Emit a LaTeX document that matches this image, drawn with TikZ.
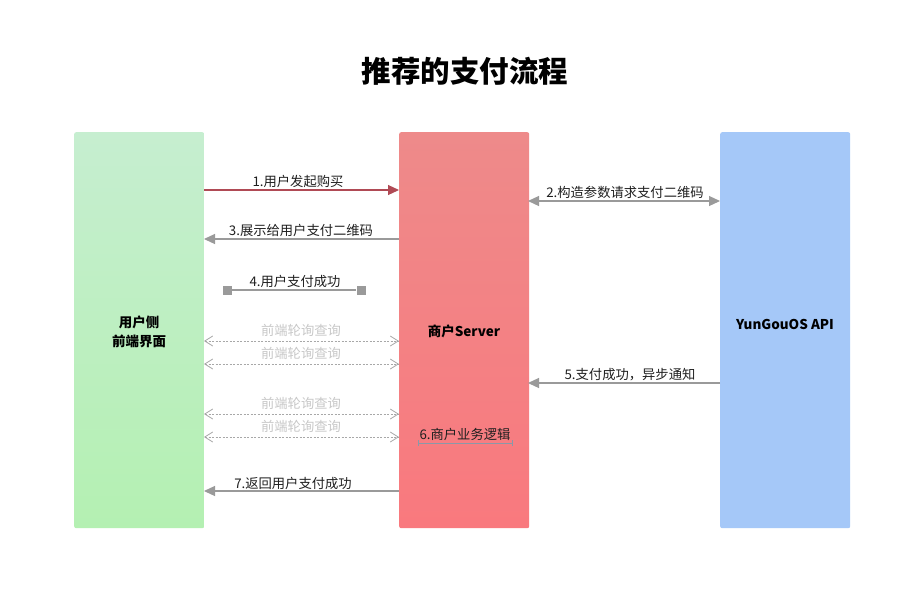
\documentclass[tikz,border=0pt]{standalone}
\usepackage{fontspec}
\setmainfont{Noto Sans CJK SC}
\usetikzlibrary{arrows.meta}
\definecolor{lineg}{HTML}{9A9A9A}
\definecolor{redl}{HTML}{B04A55}
\definecolor{dotg}{HTML}{A8A8A8}
\definecolor{lblg}{HTML}{C8C8C8}
\definecolor{gtop}{HTML}{C6EED0}
\definecolor{gbot}{HTML}{B4F0B2}
\definecolor{rtop}{HTML}{EE8A8A}
\definecolor{rbot}{HTML}{F9797E}
\definecolor{bcol}{HTML}{A5C8F8}
\definecolor{ulc}{HTML}{8A98A8}
\tikzset{
  lane/.style={rounded corners=2pt, minimum width=130pt, minimum height=396pt, inner sep=0pt, anchor=north west},
  lanetxt/.style={font=\fontsize{13.5}{19}\selectfont\bfseries, align=center, text=black},
  msg/.style={draw=lineg, line width=1.2pt, -{Triangle[length=11pt,width=10pt]}},
  dmsg/.style={draw=lineg, line width=1.2pt, {Triangle[length=11pt,width=10pt]}-{Triangle[length=11pt,width=10pt]}},
  poll/.style={draw=dotg, line width=0.8pt, dash pattern=on 2pt off 1.5pt, {Straight Barb[length=8pt,width=10pt]}-{Straight Barb[length=8pt,width=10pt]}},
  lbl/.style={font=\fontsize{13.3}{15}\selectfont, text=black!88, inner sep=0pt},
  plbl/.style={font=\fontsize{13.3}{15}\selectfont, text=lblg, inner sep=0pt},
}
\begin{document}
\begin{tikzpicture}[x=1pt,y=-1pt]
\useasboundingbox[fill=white] (0,0) rectangle (915,600);
\node[font=\fontsize{29.5}{32}\selectfont\bfseries] (title) at (465,71) {推荐的支付流程};
% lanes
\node[lane, top color=gtop, bottom color=gbot] (L) at (74,132) {};
\node[lane, top color=rtop, bottom color=rbot] (M) at (399,132) {};
\node[lane, fill=bcol] (R) at (720,132) {};
\node[lanetxt] (Lt) at (139,332) {用户侧\\前端界面};
\node[lanetxt] (Mt) at (464,331) {商户Server};
\node[lanetxt] (Rt) at (785,324) {YunGouOS API};
% coordinates on lane edges
\coordinate (l1) at (204,190); \coordinate (m1) at (399,190);
\coordinate (m2) at (528,201); \coordinate (r2) at (720,201);
\coordinate (m3) at (399,239); \coordinate (l3) at (204,239);
\coordinate (r5) at (720,383); \coordinate (m5) at (528,383);
\coordinate (m7) at (399,491); \coordinate (l7) at (204,491);
\draw[draw=redl, line width=1.2pt, -{Triangle[length=11pt,width=10pt,fill=redl]}] (l1) -- (m1);
\node[lbl] (t1) at (298,181) {1.用户发起购买};
\draw[dmsg] (m2) -- (r2);
\node[lbl] (t2) at (625,192) {2.构造参数请求支付二维码};
\draw[msg] (m3) -- (l3);
\node[lbl] (t3) at (301,230) {3.展示给用户支付二维码};
% 4
\node[fill=lineg, minimum size=9pt, inner sep=0pt] (s4a) at (227,290) {};
\node[fill=lineg, minimum size=9pt, inner sep=0pt] (s4b) at (361,290) {};
\draw[lineg, line width=1.2pt] (s4a) -- (s4b);
\node[lbl] (t4) at (295,281) {4.用户支付成功};
% polls
\foreach \y/\n in {341/a,364/b,414/c,437/d}{
  \coordinate (pl\n) at (204,\y); \coordinate (pm\n) at (399,\y);
  \draw[poll] (pl\n) -- (pm\n);
  \node[plbl] (pt\n) at (301,\y-11) {前端轮询查询};
}
\draw[msg] (r5) -- (m5);
\node[lbl] (t5) at (630,375) {5.支付成功，异步通知};
% 6
\node[lbl] (t6) at (465,434) {6.商户业务逻辑};
\coordinate (u6a) at (418,443); \coordinate (u6b) at (512,443);
\draw[ulc, line width=0.8pt] (u6a) -- (u6b);
\draw[ulc, line width=0.8pt] ([yshift=-3]u6a) -- ([yshift=3]u6a);
\draw[ulc, line width=0.8pt] ([yshift=-3]u6b) -- ([yshift=3]u6b);
\draw[msg] (m7) -- (l7);
\node[lbl] (t7) at (293,483) {7.返回用户支付成功};
\end{tikzpicture}
\end{document}
